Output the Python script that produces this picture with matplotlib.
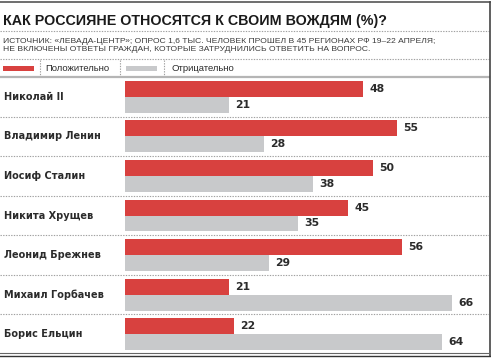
import matplotlib
matplotlib.use("Agg")
import matplotlib.pyplot as plt
from matplotlib.patches import Rectangle
from matplotlib.lines import Line2D
from matplotlib.transforms import blended_transform_factory
import numpy as np

names = ['Николай II', 'Владимир Ленин', 'Иосиф Сталин', 'Никита Хрущев',
         'Леонид Брежнев', 'Михаил Горбачев', 'Борис Ельцин']
positive = [48, 55, 50, 45, 56, 21, 22]
negative = [21, 28, 38, 35, 29, 66, 64]
series_labels = ['Положительно', 'Отрицательно']

title = 'КАК РОССИЯНЕ ОТНОСЯТСЯ К СВОИМ ВОЖДЯМ (%)?'
source = ('ИСТОЧНИК: «ЛЕВАДА-ЦЕНТР»; ОПРОС 1,6 ТЫС. ЧЕЛОВЕК ПРОШЕЛ В 45 РЕГИОНАХ РФ 19–22 АПРЕЛЯ;\n'
          'НЕ ВКЛЮЧЕНЫ ОТВЕТЫ ГРАЖДАН, КОТОРЫЕ ЗАТРУДНИЛИСЬ ОТВЕТИТЬ НА ВОПРОС.')

RED = '#d8413f'
GREY = '#c8c9cb'
TEXT = '#2b2b2b'
DOT = '#a0a0a0'
NARROW = ['Liberation Sans', 'DejaVu Sans']

W, H = 491, 358
fig = plt.figure(figsize=(W / 100, H / 100), dpi=100)
fig.patch.set_facecolor('white')

def fx(px):
    return px / W

def fy(py):
    return 1 - py / H

# bar area: value 0 at x=125px, ~4.95 px per unit, rows from y=77 to y=354
px_per_unit = 4.95
x0 = 125
top, bottom = 77, 354
ax = fig.add_axes([0, fy(bottom), fx(489), (bottom - top) / H])
ax.set_xlim(-x0 / px_per_unit, (489 - x0) / px_per_unit)
n = len(names)
ax.set_ylim(n - 0.5, -0.5)
ax.axis('off')

y = np.arange(n)
bh = 0.404
ax.barh(y - bh / 2, positive, height=bh, color=RED, left=0)
ax.barh(y + bh / 2, negative, height=bh, color=GREY, left=0)

for i in range(n):
    ax.text(positive[i] + 1.3, y[i] - bh / 2, str(positive[i]), ha='left', va='center',
            fontsize=7.8, fontweight='bold', color=TEXT)
    ax.text(negative[i] + 1.3, y[i] + bh / 2, str(negative[i]), ha='left', va='center',
            fontsize=7.8, fontweight='bold', color=TEXT)

tr = blended_transform_factory(fig.transFigure, ax.transData)
for i, name in enumerate(names):
    ax.text(fx(4), y[i], name, transform=tr, ha='left', va='center',
            fontsize=7.0, fontweight='bold', color=TEXT)

for i in range(n - 1):
    ax.axhline(i + 0.5, color=DOT, lw=0.8, ls=(0, (1.2, 1.2)))

# header
fig.text(fx(3), fy(21), title, ha='left', va='center', fontsize=10.3,
         fontweight='bold', color='#1a1a1a', family=NARROW)
fig.text(fx(3), fy(45.5), source, ha='left', va='center', fontsize=6.1,
         color='#3a3a3a', linespacing=1.3, family=NARROW)

for py in (30.5, 59):
    fig.add_artist(Line2D([0, fx(489)], [fy(py), fy(py)], color=DOT, lw=0.8,
                          ls=(0, (1.2, 1.2))))

# legend row
fig.add_artist(Rectangle((fx(3), fy(70.7)), fx(31), 5 / H, color=RED, lw=0))
fig.add_artist(Rectangle((fx(126), fy(70.7)), fx(31), 5 / H, color=GREY, lw=0))
fig.text(fx(45), fy(68.5), series_labels[0], ha='left', va='center', fontsize=6.8,
         color=TEXT, family=NARROW)
fig.text(fx(172), fy(68.5), series_labels[1], ha='left', va='center', fontsize=6.8,
         color=TEXT, family=NARROW)
for px in (40, 119.5, 164):
    fig.add_artist(Line2D([fx(px), fx(px)], [fy(60), fy(76)], color=DOT, lw=0.8,
                          ls=(0, (1.2, 1.2))))
fig.add_artist(Line2D([0, fx(489)], [fy(77), fy(77)], color='#b5b5b5', lw=1.6))

# frame
fig.add_artist(Line2D([0, fx(489.5)], [fy(1.5), fy(1.5)], color='#555555', lw=1.2))
fig.add_artist(Line2D([fx(489.5), fx(489.5)], [fy(1.5), fy(355.5)], color='#444444', lw=1.2))
fig.add_artist(Line2D([0, fx(489.5)], [fy(353), fy(353)], color='#666666', lw=0.8))
fig.add_artist(Line2D([0, fx(489.5)], [fy(355.5), fy(355.5)], color='#333333', lw=1.0))

fig.savefig('out.png', dpi=100, facecolor='white')
